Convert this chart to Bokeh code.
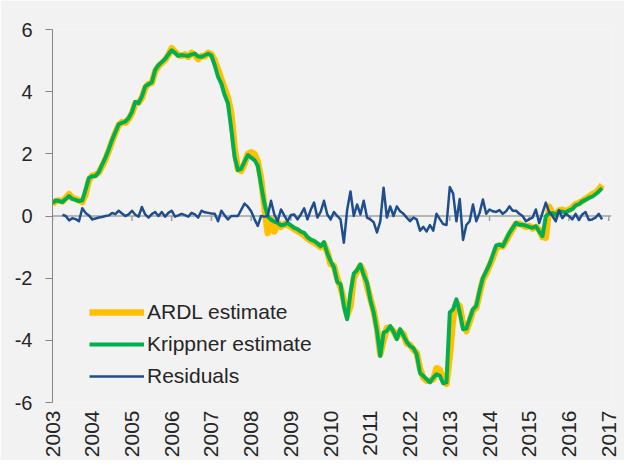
from math import pi
from bokeh.plotting import figure
from bokeh.models import Range1d, Span, FixedTicker, Legend, LegendItem
from bokeh.embed import file_html
from bokeh.resources import INLINE

# ---- data (monthly, starting January 2003) ----
start_year = 2003
ardl = [
    0.38, 0.48, 0.50, 0.47, 0.58, 0.70, 0.58, 0.55, 0.50, 0.45,
    0.70, 1.15, 1.30, 1.32, 1.40, 1.60, 1.82, 2.10, 2.40, 2.68,
    2.92, 3.02, 3.00, 3.12, 3.30, 3.62, 3.65, 3.80, 4.12, 4.25,
    4.28, 4.65, 4.82, 4.92, 5.02, 5.18, 5.40, 5.28, 5.18, 5.15,
    5.20, 5.12, 5.25, 5.18, 5.05, 5.15, 5.14, 5.25, 5.20, 5.00,
    4.70, 4.40, 4.10, 3.80, 3.30, 2.20, 1.50, 1.45, 1.68, 2.00,
    2.05, 2.00, 1.75, 1.20, 0.30, -0.55, -0.10, -0.50, -0.20, -0.35,
    -0.25, -0.30, -0.35, -0.42, -0.48, -0.55, -0.62, -0.72, -0.80, -0.85,
    -0.92, -1.00, -0.90, -1.15, -1.55, -1.60, -2.00, -2.30, -2.70, -3.20,
    -2.90, -2.00, -1.78, -1.60, -1.80, -2.25, -2.65, -3.05, -3.60, -4.45,
    -4.00, -3.60, -3.60, -3.70, -3.90, -3.70, -3.80, -4.10, -4.15, -4.30,
    -4.40, -4.90, -5.20, -5.30, -5.30, -5.25, -4.90, -4.95, -5.30, -5.40,
    -4.50, -3.30, -2.80, -2.90, -3.50, -3.70, -3.40, -3.05, -2.95, -2.50,
    -2.05, -1.85, -1.60, -1.35, -1.05, -0.95, -0.98, -0.80, -0.60, -0.42,
    -0.25, -0.25, -0.30, -0.35, -0.32, -0.40, -0.35, -0.45, -0.68, -0.70,
    0.30, 0.10, 0.02, 0.18, 0.20, 0.15, 0.20, 0.28, 0.38, 0.42,
    0.48, 0.55, 0.62, 0.70, 0.75, 0.85, 1.00,
]
krippner = [
    0.42, 0.50, 0.48, 0.45, 0.55, 0.64, 0.55, 0.52, 0.48, 0.50,
    0.85, 1.22, 1.28, 1.29, 1.42, 1.65, 1.88, 2.15, 2.45, 2.70,
    2.95, 3.00, 3.04, 3.15, 3.35, 3.67, 3.63, 3.85, 4.17, 4.24,
    4.30, 4.70, 4.85, 4.95, 5.05, 5.20, 5.33, 5.25, 5.15, 5.18,
    5.16, 5.15, 5.20, 5.22, 5.13, 5.12, 5.17, 5.22, 5.16, 4.85,
    4.48, 4.26, 3.89, 3.62, 2.80, 1.90, 1.48, 1.52, 1.75, 1.96,
    1.88, 1.80, 1.62, 1.00, 0.40, -0.01, -0.12, -0.18, -0.22, -0.30,
    -0.28, -0.22, -0.30, -0.38, -0.42, -0.50, -0.54, -0.68, -0.76, -0.80,
    -0.88, -0.97, -0.84, -1.20, -1.45, -1.65, -2.12, -2.20, -2.90, -3.32,
    -2.47, -1.85, -1.74, -1.56, -1.90, -2.15, -2.70, -3.10, -3.70, -4.50,
    -3.75, -3.70, -3.54, -3.72, -3.96, -3.64, -3.85, -4.05, -4.18, -4.25,
    -4.45, -5.05, -5.15, -5.25, -5.35, -5.20, -5.09, -5.14, -5.38, -5.35,
    -3.10, -3.00, -2.68, -3.10, -3.64, -3.62, -3.30, -3.00, -2.89, -2.40,
    -1.99, -1.77, -1.55, -1.25, -0.95, -0.92, -0.97, -0.75, -0.54, -0.38,
    -0.22, -0.28, -0.28, -0.31, -0.35, -0.38, -0.33, -0.50, -0.65, -0.01,
    0.08, 0.10, 0.04, 0.15, 0.14, 0.12, 0.18, 0.22, 0.34, 0.38,
    0.47, 0.52, 0.58, 0.62, 0.70, 0.79, 0.90,
]
resid_start_month = 3  # residuals begin in April 2003
residuals = [
    0.04, 0.00, -0.14, -0.07, -0.10, -0.17, 0.25, 0.10, 0.02,
    -0.11, -0.08, -0.05, -0.03, 0.00, 0.02, 0.10, 0.06, 0.17, 0.08,
    0.00, 0.05, 0.17, 0.04, -0.02, 0.29, 0.05, -0.05, 0.06, 0.13,
    0.00, 0.13, -0.02, 0.10, 0.17, -0.02, 0.02, 0.07, 0.03, -0.02,
    0.10, 0.05, -0.05, 0.17, 0.12, 0.10, 0.08, 0.07, -0.17, 0.17,
    0.02, -0.11, 0.00, 0.00, 0.00, 0.20, 0.40, 0.30, 0.15, -0.10,
    -0.32, 0.00, -0.02, 0.00, 0.49, 0.05, -0.17, 0.21, 0.02, -0.17,
    0.03, 0.05, -0.11, 0.05, 0.25, -0.11, 0.20, 0.43, -0.05, 0.13,
    0.49, 0.05, -0.11, 0.13, 0.00, -0.11, -0.86, 0.20, 0.79, 0.00,
    0.37, 0.05, 0.49, -0.05, -0.11, -0.20, -0.53, -0.17, 0.91, -0.05,
    0.31, 0.00, 0.31, 0.15, 0.07, -0.05, -0.17, -0.05, -0.11, -0.47,
    -0.35, -0.50, -0.29, -0.47, 0.07, -0.10, -0.26, -0.29, 0.93, 0.73,
    -0.17, 0.55, -0.77, -0.29, -0.17, 0.37, -0.17, 0.10, 0.53, 0.07,
    0.21, 0.15, 0.13, 0.19, 0.07, 0.15, 0.31, 0.17, 0.17, 0.07,
    0.00, -0.17, -0.10, -0.05, 0.21, -0.23, 0.10, 0.43, 0.13, 0.00,
    -0.17, 0.19, -0.07, 0.07, 0.00, -0.11, 0.07, -0.13, 0.05, 0.13,
    -0.13, -0.11, -0.05, 0.07, -0.11,
]
year_ticks = list(range(2003, 2018))
y_ticks = [-6, -4, -2, 0, 2, 4, 6]

t_main = [start_year + i / 12 for i in range(len(krippner))]
t_res = [start_year + (resid_start_month + i) / 12 for i in range(len(residuals))]

BG = "#f2f2f2"
AXIS = "#868686"
FONT = "Liberation Sans"
TXT = "#262626"

p = figure(width=624, height=460, output_backend="svg", toolbar_location=None,
           x_range=Range1d(2003, 2017.07), y_range=Range1d(-6, 6),
           min_border_left=52, min_border_right=13, min_border_top=29,
           min_border_bottom=58,
           background_fill_color=BG, border_fill_color=BG,
           outline_line_color=None)
p.grid.visible = False

# zero line acting as the horizontal axis
p.add_layout(Span(location=0, dimension="width", line_color="#a0a0a0",
                  line_width=1.5, level="underlay"))
p.segment(x0=year_ticks, y0=[0] * len(year_ticks), x1=year_ticks,
          y1=[-0.16] * len(year_ticks), line_color="#a0a0a0", line_width=1.5)

r_a = p.line(t_main, ardl, line_color="#FFC000", line_width=6.5,
             line_join="round")
r_k = p.line(t_main, krippner, line_color="#00B050", line_width=4,
             line_join="round")
r_r = p.line(t_res, residuals, line_color="#1F4E8C", line_width=2.5,
             line_join="round")

legend = Legend(items=[LegendItem(label="ARDL estimate", renderers=[r_a]),
                       LegendItem(label="Krippner estimate", renderers=[r_k]),
                       LegendItem(label="Residuals", renderers=[r_r])],
                location=(37, 14), background_fill_alpha=0,
                border_line_color=None, padding=0, margin=0, spacing=8,
                glyph_width=55, glyph_height=20, label_height=20,
                label_standoff=3, label_text_font=FONT,
                label_text_font_size="21px", label_text_color=TXT)
p.add_layout(legend, "center")

# y axis
ya = p.yaxis[0]
ya.ticker = FixedTicker(ticks=y_ticks)
ya.major_label_overrides = {t: str(t) for t in y_ticks}
ya.axis_line_color = AXIS
ya.major_tick_line_color = AXIS
ya.major_tick_out = 7
ya.major_tick_in = 0
ya.minor_tick_line_color = None
ya.major_label_standoff = 13
ya.major_label_text_font = FONT
ya.major_label_text_font_size = "20px"
ya.major_label_text_color = TXT

# x axis labels (rotated, at bottom)
xa = p.xaxis[0]
xa.ticker = FixedTicker(ticks=year_ticks)
xa.axis_line_color = None
xa.major_tick_line_color = None
xa.major_tick_out = 0
xa.major_tick_in = 0
xa.minor_tick_line_color = None
xa.major_label_orientation = pi / 2
xa.major_label_standoff = 8
xa.major_label_text_font = FONT
xa.major_label_text_font_size = "21px"
xa.major_label_text_color = TXT

open("out.html", "w").write(file_html(p, INLINE))
